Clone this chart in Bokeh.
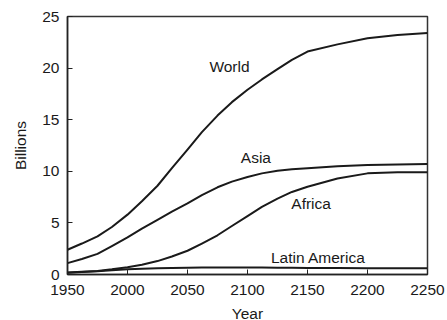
from bokeh.plotting import figure
from bokeh.models import Range1d, FixedTicker, ColumnDataSource
from bokeh.core.properties import value
from bokeh.embed import file_html
from bokeh.resources import INLINE

years = [1950, 1962, 1975, 1987, 2000, 2012, 2025, 2037, 2050, 2062, 2075, 2087,
         2100, 2112, 2125, 2137, 2150, 2175, 2200, 2225, 2250]
world = [2.4, 3.0, 3.7, 4.6, 5.8, 7.1, 8.6, 10.3, 12.1, 13.8, 15.4, 16.7,
         17.9, 18.9, 19.9, 20.8, 21.6, 22.3, 22.9, 23.2, 23.4]
asia = [1.1, 1.5, 2.0, 2.75, 3.6, 4.45, 5.3, 6.1, 6.9, 7.7, 8.45, 9.0,
        9.45, 9.8, 10.05, 10.2, 10.3, 10.5, 10.6, 10.65, 10.7]
africa = [0.2, 0.27, 0.35, 0.5, 0.7, 0.95, 1.3, 1.75, 2.3, 3.0, 3.8, 4.7,
          5.65, 6.55, 7.35, 8.0, 8.5, 9.3, 9.8, 9.9, 9.9]
latin_america = [0.17, 0.24, 0.32, 0.42, 0.5, 0.56, 0.6, 0.63, 0.65, 0.67, 0.68, 0.68,
                 0.68, 0.67, 0.66, 0.65, 0.64, 0.62, 0.6, 0.6, 0.6]

label_names = ["World", "Asia", "Africa", "Latin America"]
label_x = [2085, 2107, 2153, 2159]
label_y = [20.2, 11.3, 6.9, 1.65]

x_ticks = [1950, 2000, 2050, 2100, 2150, 2200, 2250]
y_ticks = [0, 5, 10, 15, 20, 25]

FONT = "Liberation Sans"
INK = "#1a1a1a"

p = figure(output_backend="svg", toolbar_location=None,
           frame_width=360, frame_height=258,
           x_range=Range1d(1950, 2250), y_range=Range1d(0, 25),
           min_border_left=67, min_border_right=20,
           min_border_top=16, min_border_bottom=10)

p.background_fill_color = "white"
p.border_fill_color = "white"
p.outline_line_color = "#333333"
p.outline_line_width = 1.5
p.xgrid.visible = False
p.ygrid.visible = False

for series in (world, asia, africa, latin_america):
    p.line(years, series, line_color=INK, line_width=2, line_join="round")

src = ColumnDataSource(dict(x=label_x, y=label_y, t=label_names))
p.text(x="x", y="y", text="t", source=src, text_align="center",
       text_baseline="middle", text_font=value(FONT), text_font_size="15.5px",
       text_color=INK)

for ax in (p.xaxis, p.yaxis):
    ax.axis_line_color = "#222222"
    ax.axis_line_width = 1.5
    ax.major_tick_in = 5
    ax.major_tick_out = 0
    ax.minor_tick_line_color = None
    ax.major_tick_line_color = "#222222"
    ax.major_label_text_font = FONT
    ax.major_label_text_font_size = "15.5px"
    ax.major_label_text_color = INK
    ax.axis_label_text_font = FONT
    ax.axis_label_text_font_size = "15.5px"
    ax.axis_label_text_font_style = "normal"
    ax.axis_label_text_color = INK

p.xaxis.ticker = FixedTicker(ticks=x_ticks)
p.yaxis.ticker = FixedTicker(ticks=y_ticks)
p.xaxis.axis_label = "Year"
p.yaxis.axis_label = "Billions"
p.xaxis.major_label_standoff = 10
p.xaxis.axis_label_standoff = 7
p.yaxis.major_label_standoff = 8
p.yaxis.axis_label_standoff = 10

open("out.html", "w").write(file_html(p, INLINE))
